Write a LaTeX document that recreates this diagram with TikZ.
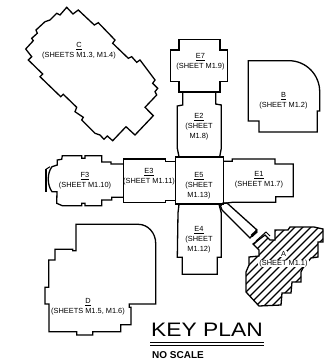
\documentclass[tikz,border=0pt]{standalone}
\usepackage{fontspec}
\setmainfont{Liberation Sans}
\tikzset{
  wall/.style={draw=black,line width=1.3pt,line join=miter},
  thin wall/.style={draw=black,line width=1pt},
  lbl/.style={font=\fontsize{7.4}{10}\selectfont,align=center,inner sep=0pt,text=black},
  hatchline/.style={draw=black,line width=1.15pt}
}
\begin{document}
\begin{tikzpicture}[x=1pt,y=-1pt]
\useasboundingbox (0,0) rectangle (328,359);
\fill[white] (0,0) rectangle (328,359);
% C
\draw[wall] (66.7,7.3)--(73,14)--(78.3,10)--(94.3,25)--(98.3,22.7)--(115,40)--(112.7,43.3)--(128.3,58.3)--(131.7,56.7)--(136.7,62.3)--(140,60)--(150,73.3)--(155,80)--(152.7,83.3)--(157.7,88.3)--(155,91.7)--(156.7,95)--(145,107.3)--(153.3,115.7)--(135,135)--(126,126.7)--(112.7,140.7)--(107.3,136)--(104,139.3)--(100,135)--(95,133.3)--(81.7,120)--(83.3,117.3)--(75,111.7)--(76.7,107.3)--(63.3,94.3)--(60.7,96.7)--(40,76.7)--(42.7,74)--(28.3,60)--(31.7,56.7)--(25.7,49)--(33.3,40.7)--(31.7,38.3)--(37.3,33.3)--(36,30)--(45,21.7)--(50,20)--(56.7,13.3)--(60,15)--cycle;
% B
\draw[wall] (248.3,60.7)--(289,60.7) .. controls (306,60.7) and (319.7,74.7) .. (319.7,91.7)--(319.7,111)--(317.3,111)--(317.3,132)--(259,132)--(259,121)--(248.3,121)--cycle;
% E7
\draw[wall] (179,39.3)--(220,39.3)--(220,50)--(227.3,50)--(227.3,81.3)--(220,81.3)--(220,92)--(179,92)--(179,81.3)--(170.7,81.3)--(170.7,50)--(179,50)--cycle;
% E2
\draw[wall] (182.7,92)--(182.7,105)--(177.3,106)--(177.3,148.3)--(179,156.7);
\draw[wall] (215.7,92)--(215.7,104)--(221.3,105)--(221.3,148.3)--(219.7,156.7);
% E5
\draw[wall] (175.7,157) rectangle (223.3,204);
% E1
\draw[wall] (223.3,161.3)--(232.3,161.3)--(232.3,159)--(275,159)--(275,164)--(293.3,164)--(293.3,196.7)--(275.7,196.7)--(275.7,202.3)--(232.3,202.3)--(223.3,203.5);
% E4
\draw[wall] (179,204.3)--(178,213)--(177.3,257.3)--(182.3,257.3)--(182.3,274.3)--(217.3,274.3)--(217.3,257.3)--(221.3,257.3)--(221.3,213)--(219,204.3);
% E3
\draw[wall] (175.7,161.7)--(165.7,161.7)--(165.7,159)--(123.3,159)--(123.3,202.3)--(165.7,202.3)--(165.7,200.7)--(175.7,200.7);
% F3
\draw[wall] (123.3,164)--(111,164)--(111,162)--(101.7,162)--(101.7,155.7)--(85,155.7)--(85,158.3)--(81.7,158.3)--(81.7,155.7)--(62.3,155.7)--(61.7,159.3)--(57.3,160)--(57.3,165)--(52,166.7) .. controls (47,173) and (47,185) .. (52,191.7)--(57,191.7)--(56.7,203.3)--(62.3,205.7)--(81.7,205.7)--(81.7,203.3)--(85,203.3)--(85,205.7)--(101.7,205.7)--(101.7,200)--(111.7,200)--(111.7,197.3)--(123.3,197.3);
\draw[wall,line width=1.8pt] (46,169.3)--(46,191.7);
\draw[thin wall] (46,169.3)--(50,166.7);
% D
\draw[wall] (76,224.3)--(138.3,224.3) .. controls (148,224.3) and (155.7,233) .. (155.7,243.3)--(155.7,304)--(129.3,304)--(129.3,307.3)--(131,307.3)--(131,324.7)--(120.7,324.7)--(120.7,331.7)--(92.7,331.7)--(92.7,335)--(76.7,335)--(76.7,331.7)--(49,331.7)--(49,304)--(45,304)--(45,287.3)--(48.7,287.3)--(48.7,260)--(55,260)--(55,249.3)--(72.7,249.3)--(72.7,250.7)--(76,250.7)--cycle;
% A hatching
\begin{scope}
\clip (253,244)--(265,235)--(270,240)--(275,240)--(275,230)--(288,230)--(290,227)--(314,227)--(323,229)--(323,242)--(318,242)--(318,257)--(311,258)--(303,268)--(301,272)--(301,282)--(292,282)--(291,293)--(282,293)--(281,305)--(259,306)--(246,292)--(246,272)--(249,265)--(249,257)--(259,256)--(259,250)--cycle;
\foreach \c in {490,498,...,650} {
  \draw[hatchline] (\c-220,220)--(\c-350,350);
}
\end{scope}
\draw[wall] (253,244)--(265,235)--(270,240)--(275,240)--(275,230)--(288,230)--(290,227)--(314,227)--(323,229)--(323,242)--(318,242)--(318,257)--(311,258)--(303,268)--(301,272)--(301,282)--(292,282)--(291,293)--(282,293)--(281,305)--(259,306)--(246,292)--(246,272)--(249,265)--(249,257)--(259,256)--(259,250)--cycle;
% link
\draw[wall] (223,203)--(227,203)--(257,230)--(250,238)--(222,210)--(220.5,206)--cycle;
\draw[wall,line width=2.8pt] (251.5,236)--(257,231);
\draw[thin wall] (256,241)--(266,232)--(270,236);
% labels
\node[lbl] (lc) at (79,51) {\underline{C}\\(SHEETS M1.3, M1.4)};
\node[lbl] (lb) at (283.5,101) {\underline{B}\\(SHEET M1.2)};
\node[lbl] (le7) at (200.5,62) {\underline{E7}\\(SHEET M1.9)};
\node[lbl] (le2) at (199,127) {\underline{E2}\\(SHEET\\M1.8)};
\node[lbl] (le5) at (199,186) {\underline{E5}\\(SHEET\\M1.13)};
\node[lbl] (le1) at (259,180) {\underline{E1}\\(SHEET M1.7)};
\node[lbl] (le3) at (149,177) {\underline{E3}\\(SHEET M1.11)};
\node[lbl] (lf3) at (85,181) {\underline{F3}\\(SHEET M1.10)};
\node[lbl] (le4) at (199,240) {\underline{E4}\\(SHEET\\M1.12)};
\node[lbl] (ld) at (88,307) {\underline{D}\\(SHEETS M1.5, M1.6)};
\node[lbl,fill=white,inner xsep=1pt,inner ysep=0.5pt] (la) at (283.5,263.5) {(SHEET M1.1)};
\node[lbl,fill=white,inner xsep=1.5pt,inner ysep=0.5pt] (laa) at (283.5,254) {A};
% title
\node[anchor=base west,inner sep=0pt,font=\fontsize{19.5}{20}\selectfont,xscale=1.17] (kp) at (151,336) {KEY PLAN};
\coordinate (ru1) at (150,342.3);
\coordinate (ru2) at (264,342.3);
\coordinate (rd1) at (150,345.7);
\coordinate (rd2) at (264,345.7);
\draw[line width=1pt] (ru1)--(ru2);
\draw[line width=1pt] (rd1)--(rd2);
\node[anchor=base west,inner sep=0pt,font=\fontsize{10}{10}\selectfont\bfseries] (ns) at (152,358) {NO SCALE};
\end{tikzpicture}
\end{document}
